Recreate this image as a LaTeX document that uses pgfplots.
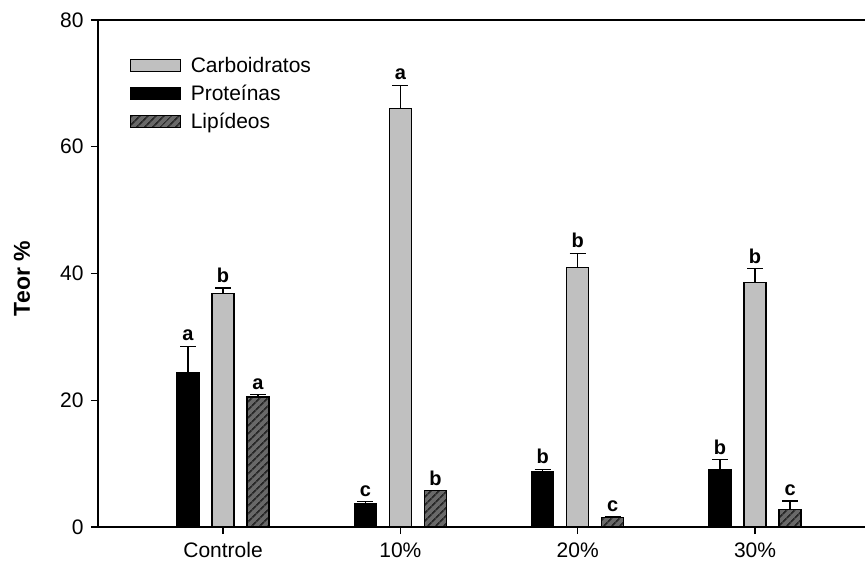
\documentclass[border=0pt]{standalone}
\usepackage{pgfplots}
\pgfplotsset{compat=1.18}
\usepackage{pgfplotstable}
\usepackage{fontspec}
\setmainfont{Liberation Sans}
\usetikzlibrary{patterns.meta}
\definecolor{carbo}{RGB}{192,192,192}
\definecolor{lipfill}{RGB}{105,105,105}
\definecolor{lipline}{RGB}{40,40,40}

\pgfplotstableread{
x  y     e    lab
1  24.4  4.1  a
2  3.7   0.3  c
3  8.7   0.4  b
4  9.0   1.6  b
}\prot
\pgfplotstableread{
x  y     e    lab
1  36.8  0.9  b
2  66.0  3.7  a
3  41.0  2.2  b
4  38.6  2.2  b
}\carb
\pgfplotstableread{
x  y     e    lab
1  20.5  0.4  a
2  5.7   0.0  b
3  1.5   0.1  c
4  2.8   1.3  c
}\lip

\begin{document}
\begin{tikzpicture}
\begin{axis}[
  scale only axis,
  width=767bp, height=507bp,
  xmin=0.295, xmax=4.62,
  ymin=0, ymax=80,
  axis x line*=box,
  axis y line*=left,
  axis line style={line width=1.2bp},
  xtick={1,2,3,4},
  xticklabels={Controle,10\%,20\%,30\%},
  xtick pos=bottom,
  ytick={0,20,40,60,80},
  ytick pos=left,
  tick align=outside,
  major tick length=7bp,
  tick style={line width=1.2bp, black},
  /pgf/number format/assume math mode=true,
  ticklabel style={font=\fontsize{21bp}{25bp}\selectfont},
  xticklabel style={yshift=-5bp},
  yticklabel style={xshift=-4bp},
  ylabel={\textbf{Teor \%}},
  ylabel style={font=\fontsize{23bp}{27bp}\selectfont, at={(axis description cs:-0.099,0.49)}, anchor=center},
  legend style={draw=none, fill=none, at={(axis description cs:0.037,0.935)}, anchor=north west,
    font=\fontsize{21bp}{25bp}\selectfont, row sep=7bp,
    legend cell align=left},
  legend image code/.code={\draw[#1, line width=1.2bp] (0bp,-6bp) rectangle (50bp,6bp); \path (58bp,0bp);},
  error bars/y dir=plus,
  error bars/y explicit,
  error bars/error mark=-,
  error bars/error mark options={rotate=90, mark size=8bp, line width=1.2bp, black},
  error bars/error bar style={line width=1.2bp, black},
  clip=false,
]
\addplot[ybar, bar width=22bp, bar shift=0pt, draw=black, line width=1.2bp, fill=carbo]
  table[x=x, y=y, y error=e]{\carb};
\addlegendentry{Carboidratos}
\addplot[ybar, bar width=22bp, bar shift=0pt, draw=black, line width=1.2bp, fill=black]
  table[x expr=\thisrow{x}-0.1974, y=y, y error=e]{\prot};
\addlegendentry{Proteínas}
\addplot[ybar, bar width=22bp, bar shift=0pt, draw=black, line width=1.2bp, fill=lipfill,
  postaction={pattern={Lines[angle=45,distance=6bp,line width=2bp]}, pattern color=lipline}]
  table[x expr=\thisrow{x}+0.1974, y=y, y error=e]{\lip};
\addlegendentry{Lipídeos}

\addplot[only marks, mark=none, forget plot, nodes near coords, point meta=explicit symbolic,
  nodes near coords style={font=\bfseries\fontsize{20bp}{23bp}\selectfont, anchor=south, inner sep=0pt, yshift=5bp}]
  table[x=x, y expr=\thisrow{y}+\thisrow{e}, meta=lab]{\carb};
\addplot[only marks, mark=none, forget plot, nodes near coords, point meta=explicit symbolic,
  nodes near coords style={font=\bfseries\fontsize{20bp}{23bp}\selectfont, anchor=south, inner sep=0pt, yshift=5bp}]
  table[x expr=\thisrow{x}-0.1974, y expr=\thisrow{y}+\thisrow{e}, meta=lab]{\prot};
\addplot[only marks, mark=none, forget plot, nodes near coords, point meta=explicit symbolic,
  nodes near coords style={font=\bfseries\fontsize{20bp}{23bp}\selectfont, anchor=south, inner sep=0pt, yshift=5bp}]
  table[x expr=\thisrow{x}+0.1974, y expr=\thisrow{y}+\thisrow{e}, meta=lab]{\lip};
\end{axis}
\pgfresetboundingbox
\path ([xshift=-98bp,yshift=-38bp]current axis.south west) rectangle ([yshift=20bp]current axis.north east);
\end{tikzpicture}
\end{document}
